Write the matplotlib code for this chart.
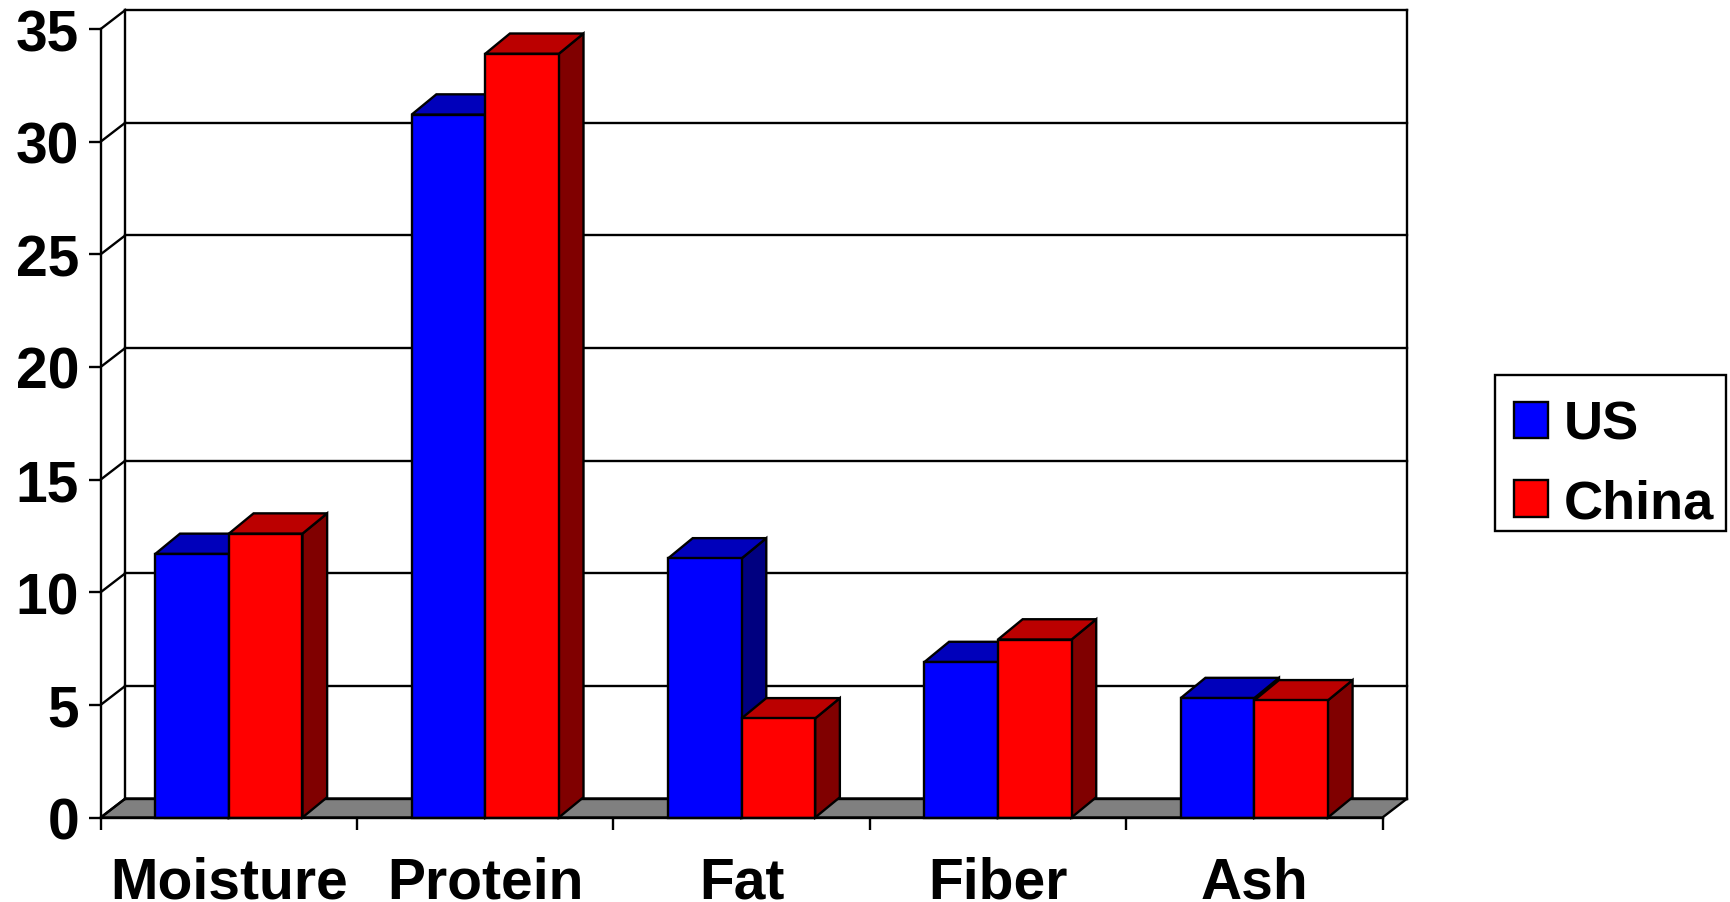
import matplotlib
matplotlib.use('Agg')
import matplotlib.pyplot as plt
from matplotlib.patches import Rectangle

categories = ['Moisture', 'Protein', 'Fat', 'Fiber', 'Ash']
us_values = [11.7, 31.2, 11.5, 6.9, 5.3]
china_values = [12.6, 33.9, 4.4, 7.9, 5.2]
y_ticks = [0, 5, 10, 15, 20, 25, 30, 35]

# depth of the fake 3d box, in data units
dx = 0.0963
dy = 0.843
bar_dy = 0.90
bar_w = 0.287
lw = 1.7

plt.rcParams['font.family'] = ['Liberation Sans', 'DejaVu Sans']
plt.rcParams['font.weight'] = 'bold'
plt.rcParams['font.size'] = 41

fig = plt.figure(figsize=(17.30, 9.03), dpi=100)
ax = fig.add_axes([100.7/1730, 84.5/903, 1281.8/1730, 788.5/903])
n = len(categories)
ax.set_xlim(0, n)
ax.set_ylim(0, y_ticks[-1])

for s in ['top', 'right']:
    ax.spines[s].set_visible(False)
for s in ['left', 'bottom']:
    ax.spines[s].set_linewidth(lw)
    ax.spines[s].set_zorder(20)

# floor and back walls
ax.fill([0, n, n+dx, dx], [0, 0, dy, dy], facecolor='#808080', edgecolor='black', lw=lw, zorder=1, clip_on=False)
for g in y_ticks:
    ax.plot([dx, n+dx], [g+dy, g+dy], color='black', lw=lw, zorder=1, clip_on=False)
    ax.plot([0, dx], [g, g+dy], color='black', lw=lw, zorder=1, clip_on=False)
ax.plot([dx, dx], [dy, y_ticks[-1]+dy], color='black', lw=lw, zorder=1, clip_on=False)
ax.plot([n+dx, n+dx], [dy, y_ticks[-1]+dy], color='black', lw=lw, zorder=1, clip_on=False)


def bar3d(x, v, front, top, side, z, label):
    ax.fill([x+bar_w, x+bar_w+dx, x+bar_w+dx, x+bar_w], [0, bar_dy, v+bar_dy, v],
            facecolor=side, edgecolor='black', lw=lw, zorder=z, clip_on=False)
    ax.fill([x, x+bar_w, x+bar_w+dx, x+dx], [v, v, v+bar_dy, v+bar_dy],
            facecolor=top, edgecolor='black', lw=lw, zorder=z, clip_on=False)
    return ax.bar(x, v, bar_w, align='edge', color=front, edgecolor='black', lw=lw, zorder=z, label=label, clip_on=False)


z = 3
for i in range(n):
    h1 = bar3d(i+0.5-bar_w, us_values[i], '#0000FF', '#0000BB', '#000080', z, 'US')
    h2 = bar3d(i+0.5, china_values[i], '#FF0000', '#BB0000', '#800000', z+1, 'China')
    z += 2

ax.set_yticks(y_ticks)
ax.set_xticks(range(n+1))
ax.set_xticklabels([])
ax.set_xticks([i+0.5 for i in range(n)], minor=True)
ax.set_xticklabels(categories, minor=True)
ax.tick_params(axis='x', which='major', length=8.6, width=lw)
ax.tick_params(axis='x', which='minor', length=0, pad=27.5)
ax.tick_params(axis='y', length=8.6, width=lw, pad=7)

# legend box is drawn on its own, the padding in the original is not even
fig.add_artist(Rectangle((1495/1730, 1-532/903), 231/1730, 156/903, transform=fig.transFigure,
                         facecolor='white', edgecolor='black', lw=lw))
leg = fig.legend(handles=[h1, h2], labels=['US', 'China'], loc='upper left', fontsize=39,
                 bbox_to_anchor=(1513.7/1730, 1-401/903), bbox_transform=fig.transFigure,
                 borderaxespad=0, borderpad=0, frameon=False,
                 handlelength=0.63, handleheight=0.67, handletextpad=0.3, labelspacing=0.52)

plt.savefig('out.png', dpi=100)
